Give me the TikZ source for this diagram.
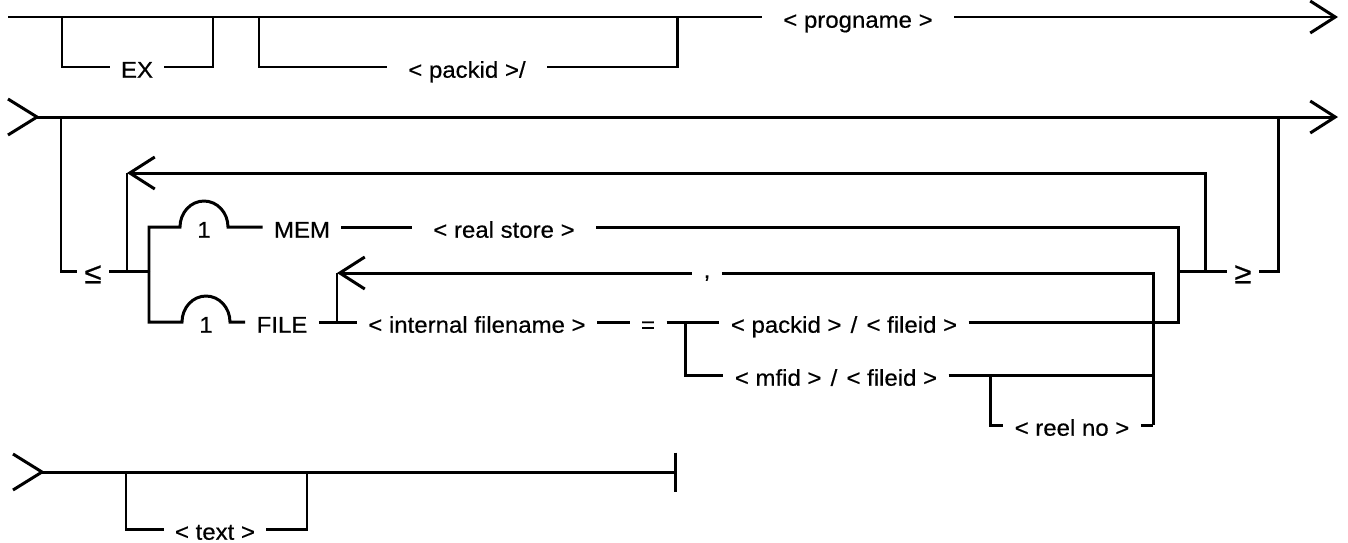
\documentclass[tikz,border=0pt]{standalone}
\usepackage{fontspec}
\setmainfont{Liberation Sans}[FakeStretch=1.05,FakeBold=0.5]
\usetikzlibrary{arrows.meta}
\tikzset{>/.tip={Straight Barb[length=0.5cm,width=0.64cm]}}

\begin{document}
\begin{tikzpicture}[x=0.02cm,y=-0.02cm,line width=1.7pt,
  every node/.style={font=\fontsize{13pt}{15pt}\selectfont,inner xsep=0.2cm,inner ysep=0pt,text height=12.2pt,text depth=0pt},
  gapwide/.style={inner xsep=0.4cm},
  relsign/.style={font=\fontsize{17pt}{19pt}\selectfont,inner xsep=0.12cm,text height=14pt}]
\useasboundingbox (0,0) rectangle (1348,542);
% row 1
\coordinate (r1s) at (8,17);
\coordinate (r1e) at (1338,17);
\coordinate (exL) at (62,17);
\coordinate (exR) at (213,17);
\coordinate (pkL) at (259,17);
\coordinate (pkR) at (677,17);
\node (ex)   at (137,67) {EX};
\node[gapwide] (pk)   at (467,67) {< packid >/};
\node[gapwide] (prog) at (858,17) {< progname >};
\draw (r1s) -- (prog);
\draw[->] (prog) -- (r1e);
\draw (exL) |- (ex);
\draw (ex) -| (exR);
\draw (pkL) |- (pk);
\draw (pk) -| (pkR);
% row 2
\coordinate (r2s) at (37,117);
\coordinate (r2e) at (1338,117);
\coordinate (lb) at (61,117);
\coordinate (rb) at (1278,117);
\coordinate (lpB) at (127,271);
\coordinate (lpT) at (127,173);
\coordinate (lpR) at (1205,271);
\coordinate (fork) at (149,271);
\coordinate (jm) at (1178,271);
\coordinate (mA) at (180,227);
\coordinate (fA) at (182,322);
\node[relsign] (le) at (93,271) {≤};
\node[relsign] (ge) at (1243,271) {≥};
\node (one1) at (204,227) {1};
\node (mem) at (302,227) {MEM};
\node[gapwide] (rs) at (504,227) {< real store >};
\node (one2) at (206,322) {1};
\node (file) at (282,322) {FILE};
\node (ifn) at (477,322) {< internal filename >};
\node (eq) at (648,322) {=};
\node (pf) at (844,322) {< packid >\hspace{0.4em}/\hspace{0.4em}< fileid >};
\node (mf) at (836,375) {< mfid >\hspace{0.4em}/\hspace{0.4em}< fileid >};
\node (rn) at (1072,425) {< reel no >};
\node[text height=5.5pt] (cm) at (707,273) {,};
\coordinate (ilB) at (337,322);
\coordinate (ilT) at (337,273);
\coordinate (ilR) at (1153,425);
\coordinate (jf) at (685,322);
\coordinate (jr) at (990,375);
\coordinate (mfR) at (1153,375);
\draw (r2s) ++(-29,-18) -- (r2s) -- ++(-29,18);
\draw[->] (r2s) -- (r2e);
\draw (lb) |- (le);
\draw (le) -- (fork);
\draw (lpB) -- (lpT);
\draw[<-] (lpT) -| (lpR);
\draw (fork) |- (mA) arc[start angle=180,end angle=360,x radius=24,y radius=26] -- (mem);
\draw (mem) -- (rs);
\draw (rs) -| (jm);
\draw (fork) |- (fA) arc[start angle=180,end angle=360,x radius=24,y radius=26] -- (file);
\draw (file) -- (ifn);
\draw (ifn) -- (eq);
\draw (eq) -- (pf);
\draw (pf) -| (jm);
\draw (jm) -- (ge);
\draw (ge) -| (rb);
\draw (ilB) -- (ilT);
\draw[<-] (ilT) -- (cm);
\draw (cm) -| (ilR);
\draw (jf) |- (mf);
\draw (mf) -- (mfR);
\draw (jr) |- (rn);
\draw (rn) -- (ilR);
% row 3
\coordinate (r3s) at (42,472);
\coordinate (r3e) at (677,472);
\coordinate (txL) at (126,472);
\coordinate (txR) at (307,472);
\node (tx) at (215,529) {< text >};
\draw (r3s) ++(-29,-18) -- (r3s) -- ++(-29,18);
\draw[-{Bar[width=0.78cm]}] (r3s) -- (r3e);
\draw (txL) |- (tx);
\draw (tx) -| (txR);
\end{tikzpicture}
\end{document}
